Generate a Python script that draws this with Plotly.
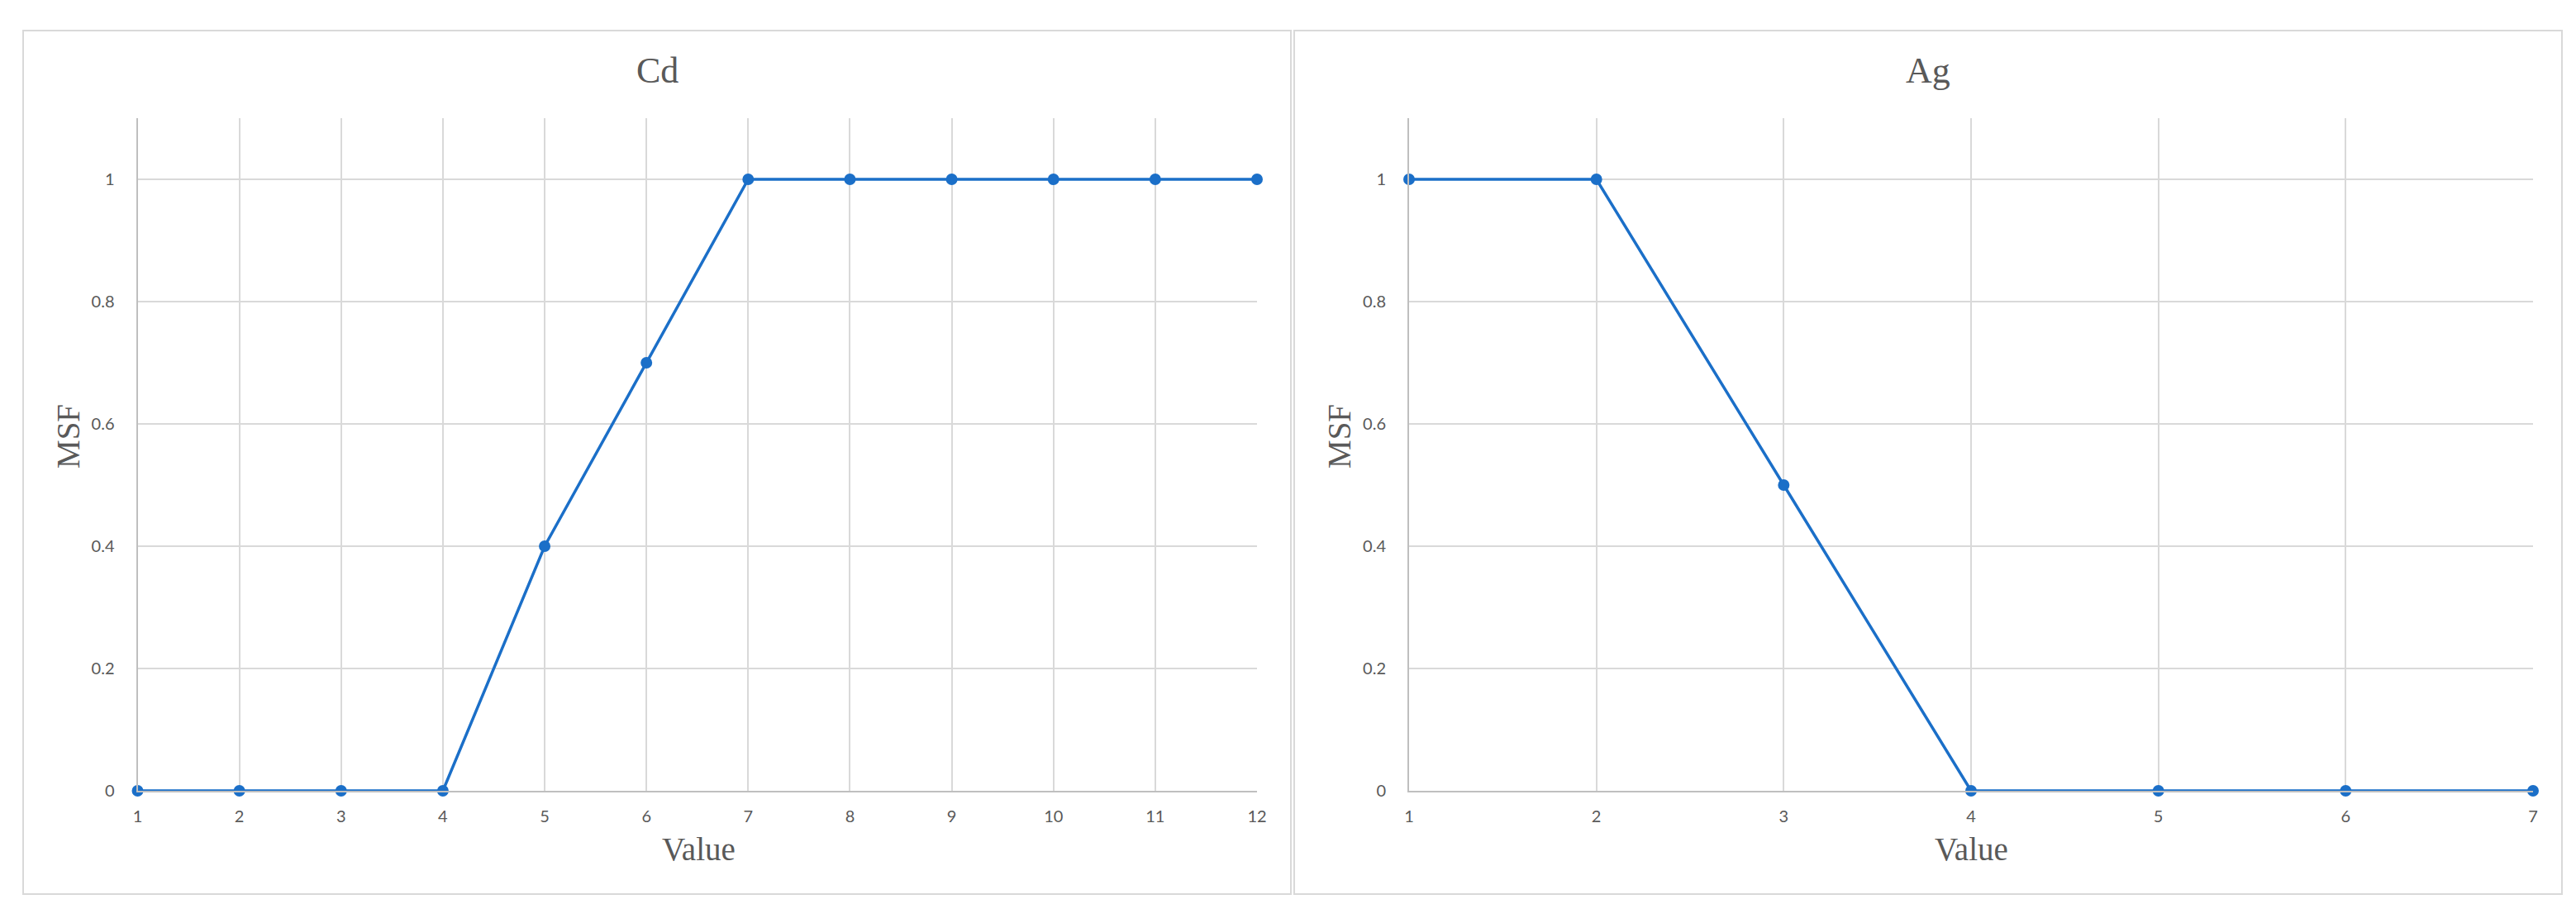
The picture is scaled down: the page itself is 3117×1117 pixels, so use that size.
import plotly.graph_objects as go

# Data
cd_x = [1, 2, 3, 4, 5, 6, 7, 8, 9, 10, 11, 12]
cd_msf = [0, 0, 0, 0, 0.4, 0.7, 1, 1, 1, 1, 1, 1]
ag_x = [1, 2, 3, 4, 5, 6, 7]
ag_msf = [1, 1, 0.5, 0, 0, 0, 0]
y_ticks = [0, 0.2, 0.4, 0.6, 0.8, 1]
y_ticktext = ["0", "0.2", "0.4", "0.6", "0.8", "1"]
titles = ["Cd", "Ag"]

W, H = 3117, 1117
OFF = 8  # page body margin offset
LINE = "#1b6fc8"
GRID = "#d9d9d9"
AXIS = "#bfbfbf"
TXT = "#595959"

fig = go.Figure()
fig.add_trace(go.Scatter(x=cd_x, y=cd_msf, mode="lines+markers", xaxis="x", yaxis="y",
                         line=dict(color=LINE, width=3.5), marker=dict(size=14, color=LINE),
                         cliponaxis=False, showlegend=False))
fig.add_trace(go.Scatter(x=ag_x, y=ag_msf, mode="lines+markers", xaxis="x2", yaxis="y2",
                         line=dict(color=LINE, width=3.5), marker=dict(size=14, color=LINE),
                         cliponaxis=False, showlegend=False))

def px(v):
    return (v - OFF) / W

def py(v):
    return 1 - (v - OFF) / H

ydom = [py(957), py(143)]
tick_font = dict(family="Lato, Noto Sans, sans-serif", size=20, color=TXT)

xcommon = dict(showgrid=True, gridcolor=GRID, gridwidth=1.5, zeroline=False,
               showline=True, linecolor=AXIS, linewidth=2, tickfont=tick_font,
               ticks="", ticklabelstandoff=12, dtick=1, tick0=1, automargin=False)
ycommon = dict(showgrid=True, gridcolor=GRID, gridwidth=1.5, zeroline=False,
               showline=True, linecolor=AXIS, linewidth=2, tickfont=tick_font,
               ticks="", ticklabelstandoff=22, range=[0, 1.1], automargin=False,
               tickvals=y_ticks, ticktext=y_ticktext)

fig.update_layout(
    width=W, height=H,
    margin=dict(l=0, r=0, t=0, b=0),
    paper_bgcolor="white", plot_bgcolor="white",
    xaxis=dict(domain=[px(166.5), px(1521)], range=[1, 12], anchor="y", **xcommon),
    yaxis=dict(domain=ydom, anchor="x", **ycommon),
    xaxis2=dict(domain=[px(1705), px(3065)], range=[1, 7], anchor="y2", **xcommon),
    yaxis2=dict(domain=ydom, anchor="x2", **ycommon),
)

# Panel borders
for x0, x1 in [(28, 1562), (1566, 3100)]:
    fig.add_shape(type="rect", xref="paper", yref="paper",
                  x0=px(x0), x1=px(x1), y0=py(1082), y1=py(37),
                  line=dict(color=GRID, width=2), fillcolor="rgba(0,0,0,0)", layer="below")

serif = "Liberation Serif, Times New Roman, serif"
panel_centers = [795, 2333]
plot_centers = [845, 2385]
ylabel_x = [82, 1620]
for i in range(2):
    fig.add_annotation(text=titles[i], xref="paper", yref="paper",
                       x=px(panel_centers[i]), y=py(85), showarrow=False,
                       font=dict(family=serif, size=44, color=TXT),
                       xanchor="center", yanchor="middle")
    fig.add_annotation(text="Value", xref="paper", yref="paper",
                       x=px(plot_centers[i]), y=py(1027), showarrow=False,
                       font=dict(family=serif, size=39, color=TXT),
                       xanchor="center", yanchor="middle")
    fig.add_annotation(text="MSF", xref="paper", yref="paper",
                       x=px(ylabel_x[i]), y=py(528), showarrow=False, textangle=-90,
                       font=dict(family=serif, size=39, color=TXT),
                       xanchor="center", yanchor="middle")

fig.write_html("out.html")
